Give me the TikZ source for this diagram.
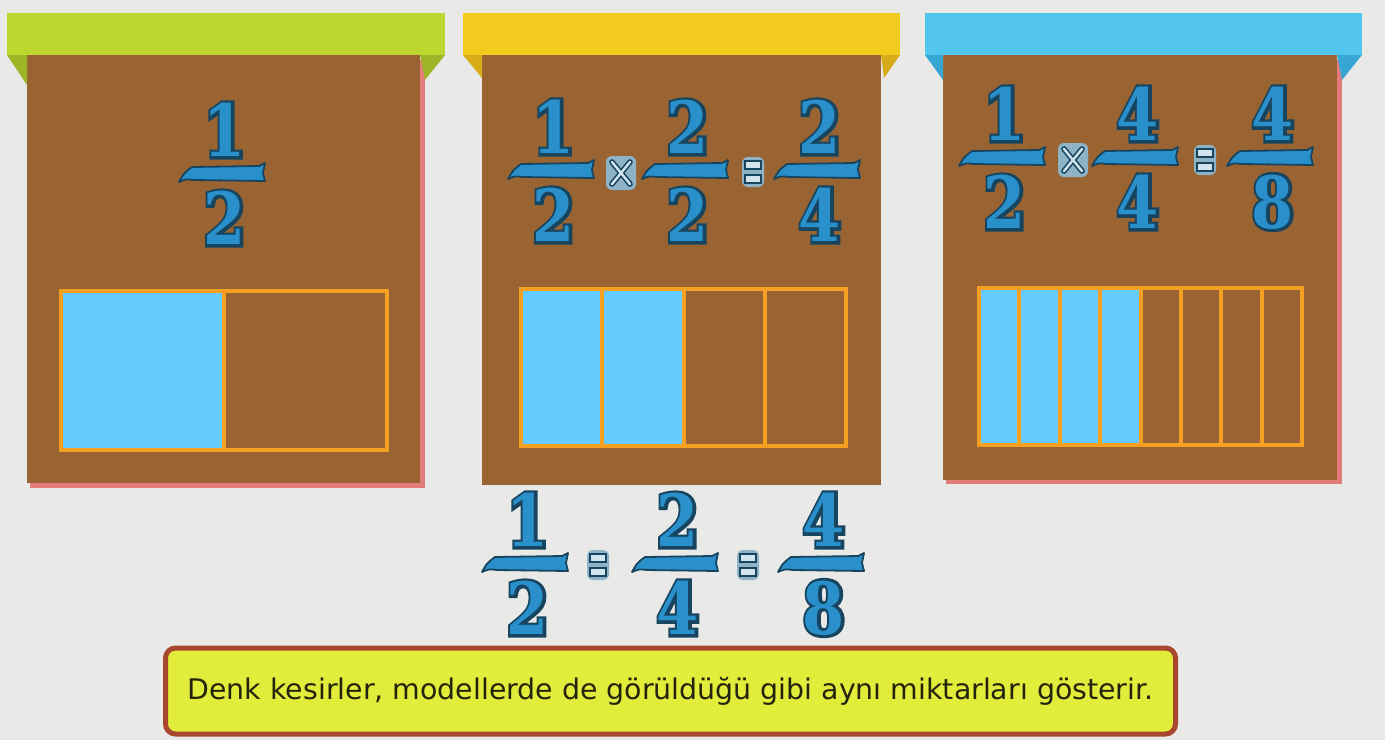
\documentclass[tikz,border=0pt]{standalone}
\usepackage{fontspec}
\setmainfont{DejaVu Sans}
\newfontfamily\digA[FakeStretch=0.84]{DejaVu Serif Bold}
\newfontfamily\digB[FakeStretch=0.84,FakeBold=8]{DejaVu Serif Bold}
\usetikzlibrary{calc}
\definecolor{bgc}{HTML}{E9E9E7}
\definecolor{brownc}{HTML}{9A6432}
\definecolor{pinkc}{HTML}{E57C7C}
\definecolor{ghead}{HTML}{BDD630}
\definecolor{gside}{HTML}{9DB527}
\definecolor{yhead}{HTML}{F2CB1F}
\definecolor{yside}{HTML}{D6AC18}
\definecolor{chead}{HTML}{52C6EE}
\definecolor{cside}{HTML}{38A6D2}
\definecolor{orangec}{HTML}{F5A020}
\definecolor{cellblue}{HTML}{66CBFF}
\definecolor{digfill}{HTML}{2A90CC}
\definecolor{digline}{HTML}{17455F}
\definecolor{opbg}{HTML}{8FB3C6}
\definecolor{oplight}{HTML}{D2E4EE}
\definecolor{msgfill}{HTML}{E2EC3A}
\definecolor{msgline}{HTML}{A8472E}
\definecolor{txtc}{HTML}{24240E}
\tikzset{
  digdark/.style={text=digline, font=\digB\fontsize{36}{36}\selectfont, inner sep=0pt},
  digblue/.style={text=digfill, font=\digA\fontsize{36}{36}\selectfont, inner sep=0pt},
  barst/.style={fill=digfill, draw=digline, line width=0.9pt, line join=round},
  grid/.style={draw=orangec, line width=2pt},
  opbox/.style={fill=opbg, rounded corners=3pt, inner sep=0pt},
  opdark/.style={draw=digline, line width=2.8pt, line cap=round},
  oplite/.style={draw=oplight, line width=1.2pt, line cap=round},
  eqbar/.style={fill=oplight, draw=digline, line width=1pt},
  msgbox/.style={fill=msgfill, draw=msgline, line width=2.5pt, rounded corners=5pt,
     text=txtc, font=\fontsize{14.2}{16}\selectfont, inner sep=0pt}
}
\newcommand\myfrac[5]{%
  \draw[barst,shift={(#2,#3)}] (-43,9) .. controls (-38,0) .. (-30,-6) -- (37,-7) -- (43,-10)
      -- (41,0) -- (43,8) -- (-28,7) .. controls (-36,6) .. (-43,9) -- cycle;
  \node[digdark] at (#2+3,#3-43) {#4};
  \node[digblue] (#1n) at (#2+3,#3-43) {#4};
  \node[digdark] at (#2+3,#3+45) {#5};
  \node[digblue] (#1d) at (#2+3,#3+45) {#5};
}
\newcommand\optimes[3]{%
  \node[opbox, minimum width=15pt, minimum height=17pt] (#1) at (#2,#3) {};
  \begin{scope}[shift={(#2,#3)}]
    \draw[opdark] (-9,-11) -- (9,11) (-9,11) -- (9,-11);
    \draw[oplite] (-9,-11) -- (9,11) (-9,11) -- (9,-11);
  \end{scope}
}
\newcommand\opeq[3]{%
  \node[opbox, minimum width=11pt, minimum height=15pt] (#1) at (#2,#3) {};
  \begin{scope}[shift={(#2,#3)}]
    \draw[eqbar] (-8,-11) rectangle (8,-3);
    \draw[eqbar] (-8,3) rectangle (8,11);
  \end{scope}
}
\begin{document}
\begin{tikzpicture}[x=0.5pt,y=-0.5pt]
\useasboundingbox (0,0) rectangle (1385,740);
\fill[bgc] (0,0) rectangle (1385,740);
% ---------- board 1 ----------
\fill[pinkc] (30,60) rectangle (425,488);
\fill[brownc] (27,55) rectangle (420,483);
\fill[gside] (7,55) -- (27,55) -- (27,85) -- cycle;
\fill[gside] (420,55) -- (445,55) -- (425,80) -- cycle;
\fill[ghead] (7,13) rectangle (445,55);
\fill[cellblue] (61,291) rectangle (224,450);
\draw[grid] (61,291) rectangle (387,450) (224,291) -- (224,450);
\myfrac{fa}{222}{173}{1}{2}
% ---------- board 2 ----------
\fill[brownc] (482,55) rectangle (881,485);
\fill[yside] (463,55) -- (482,55) -- (482,78) -- cycle;
\fill[yside] (881,55) -- (900,55) -- (884,78) -- cycle;
\fill[yhead] (463,13) rectangle (900,55);
\fill[cellblue] (521,289) rectangle (683.5,446);
\draw[grid] (521,289) rectangle (846,446);
\foreach \i in {1,2,3} \draw[grid] (521+81.25*\i,289) -- (521+81.25*\i,446);
\myfrac{fb}{551}{170}{1}{2}
\optimes{xb}{621}{173}
\myfrac{fc}{685}{170}{2}{2}
\opeq{eb}{753}{172}
\myfrac{fd}{817}{170}{2}{4}
% ---------- board 3 ----------
\fill[pinkc] (946,60) rectangle (1342,484);
\fill[brownc] (943,55) rectangle (1337,480);
\fill[cside] (925,55) -- (943,55) -- (943,80) -- cycle;
\fill[cside] (1337,55) -- (1362,55) -- (1342,80) -- cycle;
\fill[chead] (925,13) rectangle (1362,55);
\fill[cellblue] (979,288) rectangle (1140.5,445);
\draw[grid] (979,288) rectangle (1302,445);
\foreach \i in {1,...,7} \draw[grid] (979+40.375*\i,288) -- (979+40.375*\i,445);
\myfrac{fe}{1002}{157}{1}{2}
\optimes{xc}{1073}{160}
\myfrac{ff}{1135}{157}{4}{4}
\opeq{ec}{1205}{160}
\myfrac{fg}{1270}{157}{4}{8}
% ---------- bottom equation ----------
\myfrac{fh}{525}{563}{1}{2}
\opeq{ed}{598}{565}
\myfrac{fi}{675}{563}{2}{4}
\opeq{ee}{748}{565}
\myfrac{fj}{821}{563}{4}{8}
% ---------- message ----------
\node[msgbox, minimum width=505pt, minimum height=43pt] (msg) at (670.5,691)
  {Denk kesirler, modellerde de görüldüğü gibi aynı miktarları gösterir.};
\end{tikzpicture}
\end{document}
